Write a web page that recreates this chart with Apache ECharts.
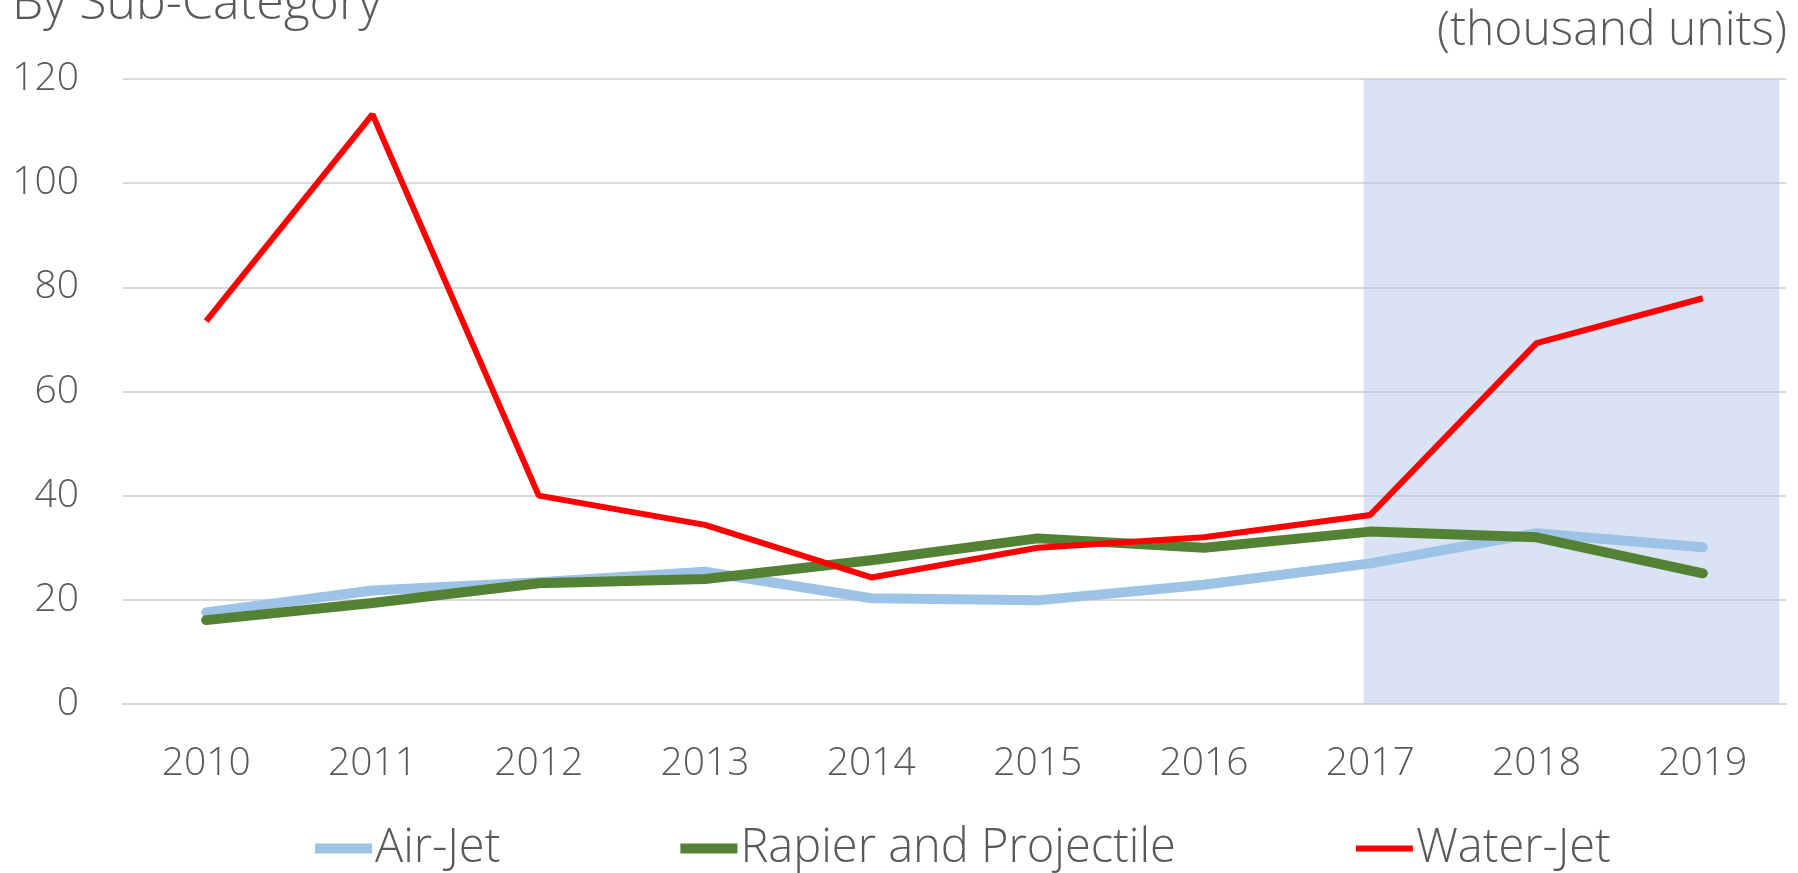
<!DOCTYPE html>
<html>
<head>
<meta charset="utf-8">
<style>
  html, body { margin: 0; padding: 0; background: #fff; }
  #chart { width: 1798px; height: 873px; }
</style>
<script src="https://cdn.jsdelivr.net/npm/echarts@6/dist/echarts.min.js"></script>
</head>
<body>
<div id="chart"></div>
<script>
var years = ['2010', '2011', '2012', '2013', '2014', '2015', '2016', '2017', '2018', '2019'];
var airJet = [17.6, 21.8, 23.4, 25.4, 20.3, 19.9, 22.9, 27.0, 32.8, 30.1];
var rapier = [16.1, 19.4, 23.2, 24.0, 27.6, 31.8, 30.0, 33.1, 32.0, 25.1];
var waterJet = [73.5, 113.2, 40.0, 34.4, 24.3, 30.0, 32.0, 36.3, 69.3, 77.9];
// shaded forecast band, in category units (0..10 across the plot)
var band = [7.46, 9.96];

var textColor = '#595959';
var font = 'Open Sans';

var chart = echarts.init(document.getElementById('chart'));
chart.setOption({
    animation: false,
    textStyle: { fontFamily: font, color: textColor, fontWeight: 300 },
    graphic: [{
        type: 'text',
        left: 12,
        top: -20,
        style: { text: 'By Sub-Category', fill: textColor, font: '300 50px "Open Sans"' }
    }, {
        type: 'text',
        right: 11,
        top: 7,
        style: { text: '(thousand units)', fill: textColor, font: '300 48px "Open Sans"' }
    }],
    grid: { left: 123, right: 12, top: 79, bottom: 169 },
    legend: {
        left: 310,
        top: 820,
        itemGap: 180,
        itemWidth: 57,
        itemHeight: 10,
        textStyle: { fontSize: 47, fontWeight: 300, color: textColor, fontFamily: font, padding: [0, 0, 0, -2] },
        data: [
            { name: 'Air-Jet', icon: 'path://M0,0 h57 v10 h-57 z' },
            { name: 'Rapier and Projectile', icon: 'path://M0,0 h57 v10 h-57 z' },
            { name: 'Water-Jet', icon: 'path://M0,0 h57 v6 h-57 z' }
        ]
    },
    xAxis: [{
        type: 'category',
        data: years,
        boundaryGap: true,
        axisLine: { lineStyle: { color: '#D9D9D9', width: 2 } },
        axisTick: { show: false },
        axisLabel: { fontSize: 39, fontWeight: 300, color: textColor, margin: 40 }
    }, {
        type: 'value',
        min: 0,
        max: 10,
        show: false
    }],
    yAxis: {
        type: 'value',
        min: 0,
        max: 120,
        interval: 20,
        axisLine: { show: false },
        axisTick: { show: false },
        axisLabel: { fontSize: 39, fontWeight: 300, color: textColor, margin: 44 },
        splitLine: { lineStyle: { color: '#D9D9D9', width: 2 } }
    },
    series: [{
        type: 'line',
        xAxisIndex: 1,
        data: [],
        z: 1,
        silent: true,
        markArea: {
            silent: true,
            itemStyle: { color: 'rgba(180,199,231,0.5)' },
            data: [[{ xAxis: band[0], yAxis: 0 }, { xAxis: band[1], yAxis: 120 }]]
        }
    }, {
        name: 'Air-Jet',
        type: 'line',
        data: airJet,
        showSymbol: false,
        z: 3,
        itemStyle: { color: '#9DC3E6' },
        lineStyle: { color: '#9DC3E6', width: 10, cap: 'round', join: 'round' }
    }, {
        name: 'Rapier and Projectile',
        type: 'line',
        data: rapier,
        showSymbol: false,
        z: 4,
        itemStyle: { color: '#548235' },
        lineStyle: { color: '#548235', width: 10, cap: 'round', join: 'round' }
    }, {
        name: 'Water-Jet',
        type: 'line',
        data: waterJet,
        showSymbol: false,
        z: 5,
        itemStyle: { color: '#FF0000' },
        lineStyle: { color: '#FF0000', width: 6 }
    }]
});
</script>
</body>
</html>
